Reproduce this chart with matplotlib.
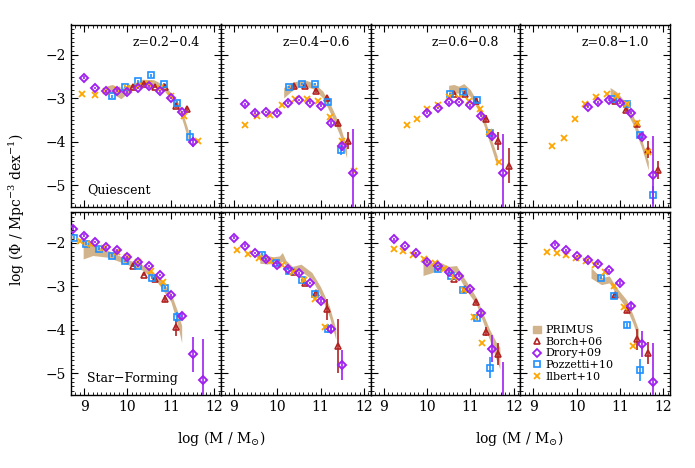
import numpy as np
import matplotlib
matplotlib.use("Agg")
import matplotlib.pyplot as plt
from matplotlib.patches import Patch
from matplotlib.lines import Line2D

plt.rcParams['font.family'] = 'DejaVu Serif'
plt.rcParams['mathtext.fontset'] = 'dejavuserif'

# redshift bins (one column per bin)
zbins = ["z=0.2\u22120.4", "z=0.4\u22120.6", "z=0.6\u22120.8", "z=0.8\u22121.0"]
rows = ["Quiescent", "Star\u2212Forming"]

# ---------------- Quiescent ----------------
q_drory_x = [[9.0, 9.25, 9.5, 9.75, 10.0, 10.25, 10.5, 10.75, 11.0, 11.25, 11.5],
             [9.25, 9.5, 9.75, 10.0, 10.25, 10.5, 10.75, 11.0, 11.25, 11.5, 11.75],
             [10.0, 10.25, 10.5, 10.75, 11.0, 11.25, 11.5, 11.75],
             [10.25, 10.5, 10.75, 11.0, 11.25, 11.5, 11.75]]
q_drory_y = [[-2.52, -2.76, -2.84, -2.82, -2.86, -2.76, -2.72, -2.84, -2.99, -3.32, -4.0],
             [-3.14, -3.33, -3.31, -3.33, -3.10, -3.04, -3.10, -3.17, -3.57, -4.10, -4.71],
             [-3.33, -3.22, -3.09, -3.08, -3.16, -3.40, -3.87, -4.71],
             [-3.19, -3.09, -3.03, -3.10, -3.33, -3.88, -4.77]]
q_drory_e = [[0.03, 0.03, 0.03, 0.03, 0.03, 0.03, 0.03, 0.03, 0.03, 0.04, 0.12],
             [0.03, 0.03, 0.03, 0.03, 0.03, 0.03, 0.03, 0.03, 0.04, 0.1, 1.0],
             [0.03, 0.03, 0.03, 0.03, 0.03, 0.04, 0.1, 0.9],
             [0.03, 0.03, 0.03, 0.03, 0.04, 0.06, 0.9]]

q_ilbert_x = [[8.95, 9.25, 9.5, 9.75, 10.0, 10.25, 10.5, 10.75, 11.0, 11.3, 11.62],
              [9.27, 9.53, 9.84, 10.12, 10.4, 10.69, 10.95, 11.22, 11.5, 11.78],
              [9.53, 9.76, 10.01, 10.25, 10.5, 10.75, 10.97, 11.22, 11.43, 11.65],
              [9.44, 9.71, 9.96, 10.2, 10.44, 10.69, 10.92, 11.17, 11.4, 11.64]]
q_ilbert_y = [[-2.90, -2.93, -2.83, -2.80, -2.75, -2.72, -2.68, -2.75, -2.95, -3.41, -3.98],
              [-3.61, -3.41, -3.38, -3.16, -3.01, -3.01, -3.06, -3.44, -3.98, -4.66],
              [-3.61, -3.47, -3.24, -3.16, -2.97, -2.99, -3.06, -3.24, -3.77, -4.46],
              [-4.10, -3.91, -3.47, -3.14, -2.97, -2.89, -2.95, -3.14, -3.56, -4.24]]

q_pozz_x = [[9.65, 9.95, 10.25, 10.55, 10.85, 11.15, 11.45],
            [10.27, 10.57, 10.86, 11.16, 11.46],
            [10.54, 10.84, 11.16, 11.45],
            [10.84, 11.17, 11.45, 11.75]]
q_pozz_y = [[-2.95, -2.74, -2.61, -2.47, -2.67, -3.10, -3.88],
            [-2.74, -2.67, -2.67, -3.08, -4.19],
            [-2.90, -2.86, -3.04, -3.79],
            [-3.01, -3.14, -3.85, -5.22]]
q_pozz_e = [[0.03, 0.03, 0.03, 0.03, 0.03, 0.04, 0.15],
            [0.03, 0.03, 0.03, 0.04, 0.12],
            [0.03, 0.03, 0.04, 0.08],
            [0.03, 0.04, 0.06, 0.2]]

q_borch_x = [[10.13, 10.38, 10.63, 10.87, 11.12, 11.37],
             [10.39, 10.63, 10.9, 11.15, 11.39, 11.63],
             [10.62, 10.87, 11.12, 11.37, 11.63, 11.88],
             [10.88, 11.13, 11.4, 11.64, 11.88]]
q_borch_y = [[-2.73, -2.68, -2.73, -2.73, -3.17, -3.24],
             [-2.72, -2.72, -2.83, -2.99, -3.56, -3.97],
             [-2.89, -2.90, -3.06, -3.47, -3.98, -4.55],
             [-3.06, -3.27, -3.59, -4.18, -4.65]]
q_borch_e = [[0.03, 0.03, 0.03, 0.04, 0.05, 0.06],
             [0.03, 0.03, 0.04, 0.05, 0.08, 0.2],
             [0.03, 0.03, 0.04, 0.08, 0.2, 0.4],
             [0.03, 0.04, 0.08, 0.2, 0.2]]

q_primus_x = [[9.5, 9.65, 9.85, 10.0, 10.15, 10.35, 10.6, 10.85, 11.05, 11.2, 11.3, 11.4],
              [10.15, 10.32, 10.5, 10.65, 10.85, 11.05, 11.25, 11.45, 11.6],
              [10.5, 10.62, 10.73, 10.85, 11.0, 11.17, 11.32, 11.47, 11.62],
              [10.77, 10.92, 11.1, 11.3, 11.5, 11.65]]
q_primus_y = [[-2.82, -2.78, -2.89, -2.80, -2.72, -2.62, -2.63, -2.76, -3.0, -3.22, -3.52, -3.85],
              [-2.87, -2.74, -2.66, -2.65, -2.72, -2.91, -3.29, -3.75, -4.25],
              [-2.80, -2.78, -2.80, -2.74, -2.88, -3.17, -3.54, -4.0, -4.45],
              [-2.85, -2.93, -3.14, -3.5, -4.05, -4.55]]
q_primus_w = [[0.1, 0.1, 0.12, 0.08, 0.07, 0.06, 0.06, 0.07, 0.07, 0.08, 0.1, 0.12],
              [0.12, 0.1, 0.07, 0.07, 0.07, 0.08, 0.1, 0.12, 0.12],
              [0.1, 0.1, 0.08, 0.08, 0.08, 0.08, 0.1, 0.1, 0.12],
              [0.1, 0.08, 0.08, 0.1, 0.1, 0.1]]

# ---------------- Star-forming ----------------
s_drory_x = [[8.75, 9.0, 9.25, 9.5, 9.75, 10.0, 10.25, 10.5, 10.75, 11.0, 11.25, 11.5, 11.75],
             [9.0, 9.25, 9.5, 9.75, 10.0, 10.25, 10.5, 10.75, 11.0, 11.25, 11.5],
             [9.25, 9.5, 9.75, 10.0, 10.25, 10.5, 10.75, 11.0, 11.25, 11.5, 11.75],
             [9.5, 9.75, 10.0, 10.25, 10.5, 10.75, 11.0, 11.25, 11.5, 11.75]]
s_drory_y = [[-1.67, -1.83, -1.98, -2.10, -2.17, -2.33, -2.44, -2.53, -2.74, -3.21, -3.68, -4.56, -5.15],
             [-1.88, -2.06, -2.23, -2.38, -2.50, -2.59, -2.70, -2.92, -3.34, -3.99, -4.81],
             [-1.92, -2.07, -2.24, -2.43, -2.53, -2.66, -2.75, -3.07, -3.62, -4.43, -5.7],
             [-2.04, -2.17, -2.30, -2.40, -2.48, -2.63, -2.92, -3.45, -4.32, -5.21]]
s_drory_e = [[0.03, 0.03, 0.03, 0.03, 0.03, 0.03, 0.03, 0.03, 0.03, 0.04, 0.06, 0.4, 0.95],
             [0.03, 0.03, 0.03, 0.03, 0.03, 0.03, 0.03, 0.03, 0.04, 0.06, 0.35],
             [0.03, 0.03, 0.03, 0.03, 0.03, 0.03, 0.03, 0.04, 0.06, 0.3, 0.95],
             [0.03, 0.03, 0.03, 0.03, 0.03, 0.03, 0.04, 0.06, 0.3, 0.9]]

s_ilbert_x = [[8.9, 9.15, 9.45, 9.75, 10.0, 10.25, 10.55, 10.82],
              [9.08, 9.33, 9.57, 9.84, 10.1, 10.37, 10.62, 10.86, 11.11],
              [9.23, 9.46, 9.68, 9.93, 10.18, 10.4, 10.63, 10.86, 11.08, 11.27],
              [9.31, 9.54, 9.76, 9.99, 10.22, 10.43, 10.65, 10.87, 11.09, 11.3]]
s_ilbert_y = [[-1.96, -2.02, -2.12, -2.2, -2.33, -2.45, -2.65, -2.9],
              [-2.17, -2.25, -2.34, -2.42, -2.50, -2.66, -2.86, -3.28, -3.94],
              [-2.15, -2.19, -2.27, -2.36, -2.47, -2.59, -2.79, -3.09, -3.71, -4.30],
              [-2.21, -2.23, -2.27, -2.34, -2.42, -2.51, -2.66, -2.99, -3.48, -4.37]]

s_pozz_x = [[8.77, 9.04, 9.34, 9.65, 9.95, 10.25, 10.56, 10.86, 11.15],
            [9.66, 9.97, 10.27, 10.57, 10.86, 11.16],
            [10.25, 10.55, 10.84, 11.16, 11.45],
            [10.56, 10.87, 11.17, 11.47]]
s_pozz_y = [[-1.88, -2.02, -2.13, -2.29, -2.42, -2.53, -2.80, -3.03, -3.71],
            [-2.27, -2.46, -2.65, -2.86, -3.17, -3.97],
            [-2.61, -2.75, -3.09, -3.72, -4.87],
            [-2.80, -3.22, -3.90, -4.93]]
s_pozz_e = [[0.03, 0.03, 0.03, 0.03, 0.03, 0.03, 0.03, 0.04, 0.12],
            [0.03, 0.03, 0.03, 0.03, 0.04, 0.1],
            [0.03, 0.03, 0.04, 0.06, 0.25],
            [0.03, 0.04, 0.06, 0.25]]

s_borch_x = [[10.13, 10.38, 10.63, 10.87, 11.12],
             [10.39, 10.63, 10.9, 11.15, 11.39],
             [10.62, 10.87, 11.12, 11.37, 11.63],
             [10.88, 11.15, 11.4, 11.64]]
s_borch_y = [[-2.53, -2.74, -2.84, -3.28, -3.94],
             [-2.66, -2.92, -3.15, -3.53, -4.37],
             [-2.82, -3.05, -3.35, -4.04, -4.56],
             [-3.20, -3.55, -4.22, -4.53]]
s_borch_e = [[0.03, 0.03, 0.04, 0.08, 0.2],
             [0.03, 0.04, 0.06, 0.25, 0.63],
             [0.03, 0.04, 0.06, 0.1, 0.25],
             [0.04, 0.06, 0.25, 0.25]]

s_primus_x = [[8.98, 9.2, 9.55, 9.95, 10.35, 10.7, 11.0, 11.15, 11.25],
              [9.6, 9.75, 9.9, 10.05, 10.12, 10.2, 10.35, 10.55, 10.8, 11.0, 11.2, 11.35],
              [9.91, 10.1, 10.32, 10.5, 10.68, 10.84, 10.99, 11.14, 11.29, 11.44, 11.6, 11.68],
              [10.33, 10.57, 10.75, 10.92, 11.15, 11.3, 11.42]]
s_primus_y = [[-2.15, -2.17, -2.25, -2.42, -2.57, -2.84, -3.25, -3.71, -4.1],
              [-2.35, -2.38, -2.40, -2.38, -2.32, -2.47, -2.61, -2.57, -2.76, -3.11, -3.57, -4.1],
              [-2.55, -2.57, -2.53, -2.61, -2.6, -2.88, -3.11, -3.34, -3.72, -4.1, -4.49, -4.65],
              [-2.69, -2.88, -2.84, -3.11, -3.41, -3.76, -4.1]]
s_primus_w = [[0.22, 0.12, 0.08, 0.06, 0.06, 0.08, 0.1, 0.15, 0.2],
              [0.12, 0.1, 0.08, 0.08, 0.1, 0.07, 0.07, 0.08, 0.08, 0.1, 0.12, 0.12],
              [0.2, 0.12, 0.08, 0.07, 0.08, 0.1, 0.1, 0.08, 0.1, 0.12, 0.2, 0.25],
              [0.12, 0.08, 0.08, 0.08, 0.1, 0.1, 0.12]]

# colours
c_primus = '#d2b48c'
c_borch = '#b22222'
c_drory = '#a020f0'
c_pozz = '#1e90ff'
c_ilbert = '#ffa500'

fig = plt.figure(figsize=(6.95, 4.68), dpi=100)

left = 71 / 695
pw = 149.75 / 695
tops = [1 - 207 / 468, 1 - 395 / 468]
ph = 182.5 / 468

data = [
    (q_drory_x, q_drory_y, q_drory_e, q_ilbert_x, q_ilbert_y, q_pozz_x, q_pozz_y, q_pozz_e,
     q_borch_x, q_borch_y, q_borch_e, q_primus_x, q_primus_y, q_primus_w),
    (s_drory_x, s_drory_y, s_drory_e, s_ilbert_x, s_ilbert_y, s_pozz_x, s_pozz_y, s_pozz_e,
     s_borch_x, s_borch_y, s_borch_e, s_primus_x, s_primus_y, s_primus_w),
]

for r in range(2):
    (dx, dy, de, ix, iy, px, py, pe, bx, by, be, mx, my, mw) = data[r]
    for c in range(4):
        ax = fig.add_axes([left + c * pw, tops[r], pw, ph])

        # PRIMUS band
        xm = np.array(mx[c])
        ym = np.array(my[c])
        wm = np.array(mw[c])
        ax.fill_between(xm, ym - wm, ym + wm, color=c_primus, lw=0, zorder=1)

        # literature points
        ax.errorbar(bx[c], by[c], yerr=be[c], fmt='^', ms=5, mfc='none', mec=c_borch,
                    mew=1.2, ecolor=c_borch, elinewidth=1.2, capsize=0, zorder=3)
        ax.errorbar(px[c], py[c], yerr=pe[c], fmt='s', ms=5, mfc='none', mec=c_pozz,
                    mew=1.2, ecolor=c_pozz, elinewidth=1.2, capsize=0, zorder=3)
        ax.plot(ix[c], iy[c], 'x', ms=5, mew=1.3, color=c_ilbert, zorder=4)
        ax.errorbar(dx[c], dy[c], yerr=de[c], fmt='D', ms=4, mfc='none', mec=c_drory,
                    mew=1.4, ecolor=c_drory, elinewidth=1.2, capsize=0, zorder=4)

        ax.set_xlim(8.7, 12.15)
        ax.set_ylim(-5.5, -1.3)
        ax.set_xticks([9, 10, 11, 12])
        ax.set_xticks(np.arange(8.8, 12.15, 0.1), minor=True)
        ax.set_yticks([-5, -4, -3, -2])
        ax.set_yticks(np.arange(-5.5, -1.25, 0.1), minor=True)
        ax.tick_params(which='both', direction='in', top=True, right=True, labelsize=10)
        ax.tick_params(which='major', length=5, width=0.8)
        ax.tick_params(which='minor', length=2.5, width=0.6)
        ax.set_yticklabels(['\u22125', '\u22124', '\u22123', '\u22122'])
        if c > 0:
            ax.tick_params(labelleft=False)
        if r == 0:
            ax.tick_params(labelbottom=False)
            ax.text(0.86, 0.90, zbins[c], transform=ax.transAxes, ha='right',
                    va='center', fontsize=9)
        if c == 0:
            ax.text(0.11, 0.093, rows[r], transform=ax.transAxes, ha='left',
                    va='center', fontsize=9)
        for sp in ax.spines.values():
            sp.set_linewidth(1.0)

        if r == 1 and c == 3:
            handles = [
                Patch(color=c_primus, label='PRIMUS'),
                Line2D([], [], ls='none', marker='^', ms=5, mfc='none', mec=c_borch, mew=1.2, label='Borch+06'),
                Line2D([], [], ls='none', marker='D', ms=4, mfc='none', mec=c_drory, mew=1.3, label='Drory+09'),
                Line2D([], [], ls='none', marker='s', ms=5, mfc='none', mec=c_pozz, mew=1.2, label='Pozzetti+10'),
                Line2D([], [], ls='none', marker='x', ms=5, mec=c_ilbert, mew=1.3, label='Ilbert+10'),
            ]
            ax.legend(handles=handles, loc='lower left', bbox_to_anchor=(0.03, 0.03),
                      frameon=False, fontsize=8, handlelength=0.8, handleheight=0.6,
                      handletextpad=0.4, labelspacing=0.15, borderpad=0.2)

fig.text(17 / 695, 1 - 210 / 468, r'log ($\Phi$ / Mpc$^{-3}$ dex$^{-1}$)', rotation=90,
         ha='center', va='center', fontsize=10)
fig.text(221 / 695, 1 - 438 / 468, r'log (M / M$_{\odot}$)', ha='center', va='center', fontsize=10)
fig.text(519 / 695, 1 - 438 / 468, r'log (M / M$_{\odot}$)', ha='center', va='center', fontsize=10)

plt.savefig('out.png', dpi=100)
